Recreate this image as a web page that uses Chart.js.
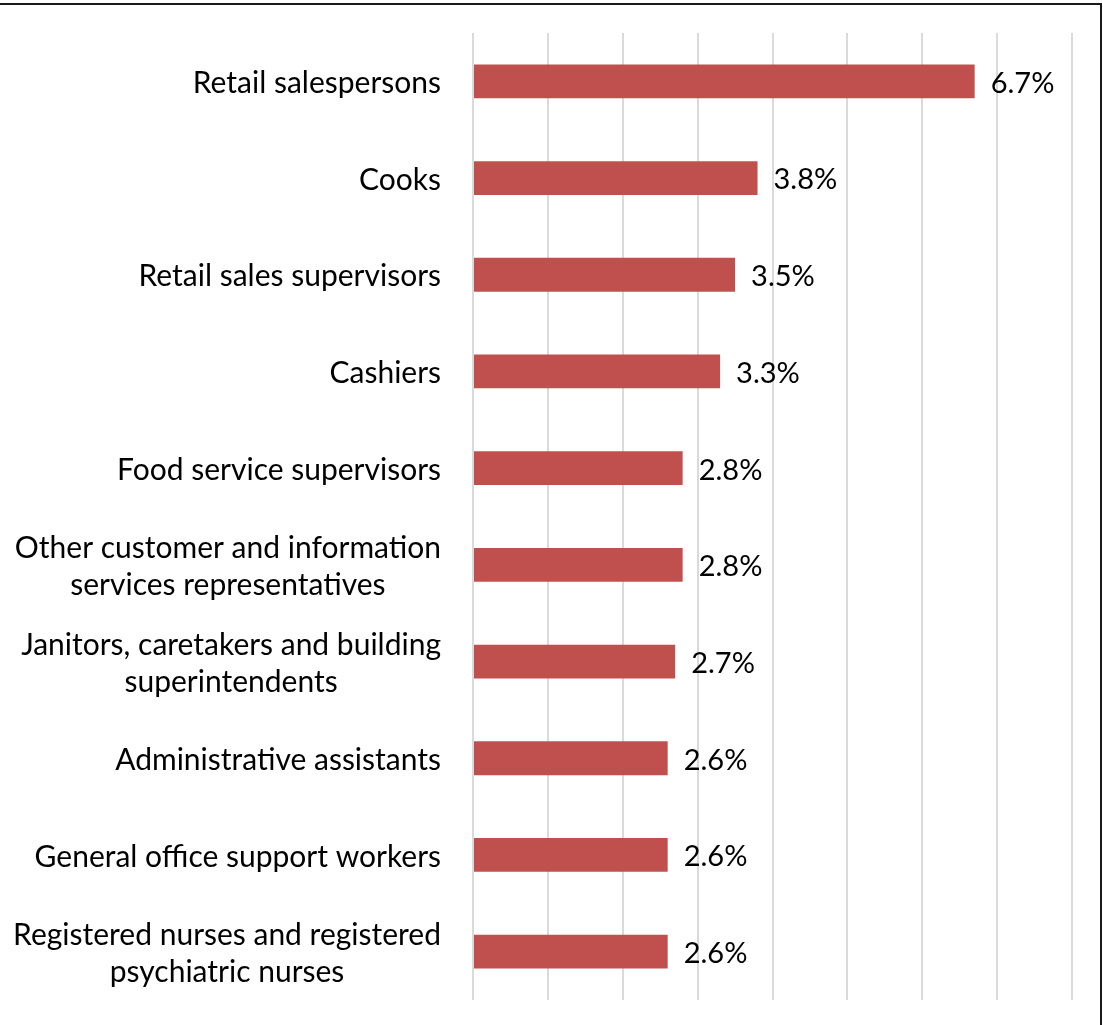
<!DOCTYPE html>
<html>
<head>
<meta charset="utf-8">
<script src="https://cdn.jsdelivr.net/npm/chart.js@4/dist/chart.umd.min.js"></script>
<style>
    html, body { margin: 0; padding: 0; background: #fff; }
    canvas { display: block; }
</style>
</head>
<body>
<canvas id="grafico" width="1103" height="1025"></canvas>
<script>
// Ocupações – participação (%)
const ocupacoes = [
    ["Retail salespersons"],
    ["Cooks"],
    ["Retail sales supervisors"],
    ["Cashiers"],
    ["Food service supervisors"],
    ["Other customer and information", "services representatives"],
    ["Janitors, caretakers and building", "superintendents"],
    ["Administrative assistants"],
    ["General office support workers"],
    ["Registered nurses and registered", "psychiatric nurses"]
];
const percentuais = [6.7, 3.8, 3.5, 3.3, 2.8, 2.8, 2.7, 2.6, 2.6, 2.6];
const escalaX = { min: 0, max: 8, passo: 1 };

const FONTE = "Lato, 'Open Sans', sans-serif";

// Moldura (linha superior e lateral direita)
const moldura = {
    id: "moldura",
    beforeDraw(chart) {
        const { ctx, width, height } = chart;
        ctx.save();
        ctx.strokeStyle = "#1a1a1a";
        ctx.lineWidth = 2;
        ctx.beginPath();
        ctx.moveTo(0, 4);
        ctx.lineTo(width - 2, 4);
        ctx.lineTo(width - 2, height);
        ctx.stroke();
        ctx.restore();
    }
};

// Rótulos das categorias: bloco alinhado à direita, linhas centralizadas
const rotulosCategorias = {
    id: "rotulosCategorias",
    afterDraw(chart) {
        const { ctx, chartArea } = chart;
        const y = chart.scales.y;
        const alturaLinha = 37;
        ctx.save();
        ctx.font = `30px ${FONTE}`;
        ctx.fillStyle = "#000";
        ctx.textAlign = "center";
        ctx.textBaseline = "middle";
        chart.data.labels.forEach((linhas, i) => {
            const largura = Math.max(...linhas.map(l => ctx.measureText(l).width));
            const centro = chartArea.left - 32 - largura / 2;
            const yc = y.getPixelForValue(i) + 2;
            linhas.forEach((l, j) => {
                ctx.fillText(l, centro, yc + (j - (linhas.length - 1) / 2) * alturaLinha);
            });
        });
        ctx.restore();
    }
};

// Valores ao lado das barras
const rotulosValores = {
    id: "rotulosValores",
    afterDatasetsDraw(chart) {
        const { ctx } = chart;
        const meta = chart.getDatasetMeta(0);
        ctx.save();
        ctx.font = `29px ${FONTE}`;
        ctx.fillStyle = "#000";
        ctx.textAlign = "left";
        ctx.textBaseline = "middle";
        meta.data.forEach((barra, i) => {
            ctx.fillText(percentuais[i].toFixed(1) + "%", barra.x + 16, barra.y + 2);
        });
        ctx.restore();
    }
};

new Chart(document.getElementById("grafico"), {
    type: "bar",
    data: {
        labels: ocupacoes,
        datasets: [{
            data: percentuais,
            backgroundColor: "#C0504D",
            barPercentage: 0.35,
            categoryPercentage: 1
        }]
    },
    options: {
        indexAxis: "y",
        responsive: false,
        animation: false,
        devicePixelRatio: 1,
        layout: { padding: { top: 33, right: 31, bottom: 25, left: 0 } },
        plugins: { legend: { display: false }, tooltip: { enabled: false } },
        scales: {
            x: {
                min: escalaX.min, max: escalaX.max,
                ticks: { display: false, stepSize: escalaX.passo },
                grid: { color: "#dadada", lineWidth: 2, drawTicks: false },
                border: { display: false }
            },
            y: {
                ticks: { display: false },
                grid: { display: false },
                border: { display: false },
                afterFit(escala) { escala.width = 473; }
            }
        }
    },
    plugins: [moldura, rotulosCategorias, rotulosValores]
});
</script>
</body>
</html>
